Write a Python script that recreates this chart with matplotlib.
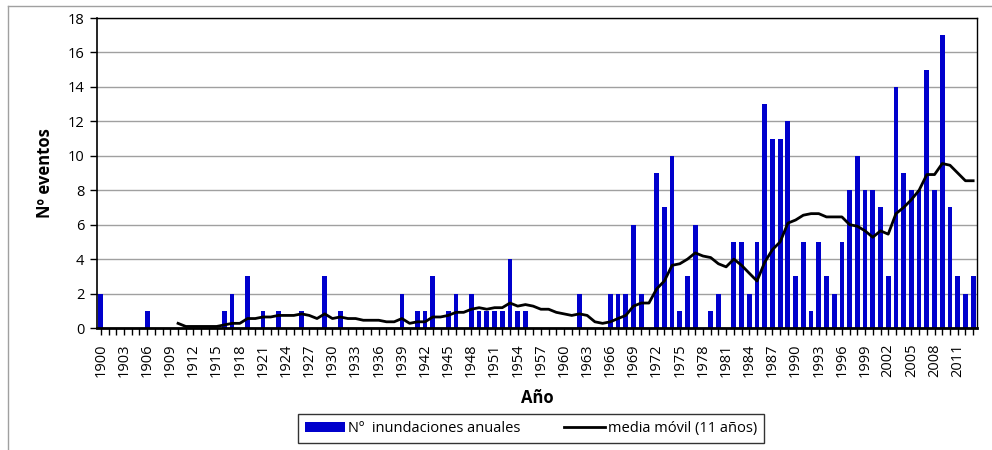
import matplotlib.pyplot as plt
import matplotlib.lines as mlines
import numpy as np

plt.rcParams['font.family'] = ['Open Sans', 'DejaVu Sans']

# Datos: número de inundaciones por año (1900-2013)
years = list(range(1900, 2014))
counts = [
    2, 0, 0, 0, 0, 0, 1, 0, 0, 0,      # 1900-1909
    0, 0, 0, 0, 0, 0, 1, 2, 0, 3,      # 1910-1919
    0, 1, 0, 1, 0, 0, 1, 0, 0, 3,      # 1920-1929
    0, 1, 0, 0, 0, 0, 0, 0, 0, 2,      # 1930-1939
    0, 1, 1, 3, 0, 1, 2, 0, 2, 1,      # 1940-1949
    1, 1, 1, 4, 1, 1, 0, 0, 0, 0,      # 1950-1959
    0, 0, 2, 0, 0, 0, 2, 2, 2, 6,      # 1960-1969
    2, 0, 9, 7, 10, 1, 3, 6, 0, 1,     # 1970-1979
    2, 0, 5, 5, 2, 5, 13, 11, 11, 12,  # 1980-1989
    3, 5, 1, 5, 3, 2, 5, 8, 10, 8,     # 1990-1999
    8, 7, 3, 14, 9, 8, 8, 15, 8, 17,   # 2000-2009
    7, 3, 2, 3,                        # 2010-2013
]

# media móvil de 11 años (1910-2013)
ma_years = list(range(1910, 2014))
ma_values = [
    0.27, 0.09, 0.09, 0.09, 0.09, 0.09, 0.18, 0.27, 0.27, 0.55,  # 1910-1919
    0.55, 0.64, 0.64, 0.73, 0.73, 0.73, 0.82, 0.73, 0.55, 0.82,  # 1920-1929
    0.55, 0.64, 0.55, 0.55, 0.45, 0.45, 0.45, 0.36, 0.36, 0.55,  # 1930-1939
    0.27, 0.36, 0.36, 0.64, 0.64, 0.73, 0.91, 0.91, 1.09, 1.18,  # 1940-1949
    1.09, 1.18, 1.18, 1.45, 1.27, 1.36, 1.27, 1.09, 1.09, 0.91,  # 1950-1959
    0.82, 0.73, 0.82, 0.73, 0.36, 0.27, 0.36, 0.55, 0.73, 1.27,  # 1960-1969
    1.45, 1.45, 2.27, 2.73, 3.64, 3.73, 4.00, 4.36, 4.18, 4.09,  # 1970-1979
    3.73, 3.55, 4.00, 3.64, 3.18, 2.73, 3.82, 4.55, 5.00, 6.09,  # 1980-1989
    6.27, 6.55, 6.64, 6.64, 6.45, 6.45, 6.45, 6.00, 5.91, 5.64,  # 1990-1999
    5.27, 5.64, 5.45, 6.64, 7.00, 7.45, 8.00, 8.91, 8.91, 9.55,  # 2000-2009
    9.45, 9.00, 8.55, 8.55,                                      # 2010-2013
]

label_years = list(range(1900, 2012, 3))
y_ticks = list(range(0, 19, 2))

fig = plt.figure(figsize=(9.92, 4.5), dpi=100)
ax = fig.add_axes([97 / 992, 1 - 328 / 450, 880 / 992, 310 / 450])

bars = ax.bar(years, counts, width=0.62, color='#0000CC', zorder=2,
              label='Nº  inundaciones anuales')
line, = ax.plot(ma_years, ma_values, color='black', lw=2, zorder=3,
                label='media móvil (11 años)')

ax.set_xlim(1899.5, 2013.5)
ax.set_ylim(0, 18)
ax.set_yticks(y_ticks)
ax.set_xticks(label_years)
ax.set_xticks(years, minor=True)
ax.set_xticklabels([str(y) for y in label_years], rotation=90)
ax.tick_params(axis='x', which='both', direction='out', length=5, width=1,
               labelsize=10.5, pad=6)
ax.tick_params(axis='y', direction='out', length=5, width=1, labelsize=10.5, pad=4)

ax.yaxis.grid(True, color='#a0a0a0', lw=1)
ax.set_axisbelow(True)
for s in ['top', 'right']:
    ax.spines[s].set_linewidth(1)
ax.spines['left'].set_linewidth(1.2)
ax.spines['bottom'].set_linewidth(2)

ax.set_ylabel('Nº eventos', fontsize=12, fontweight='bold', labelpad=10)
ax.set_xlabel('Año', fontsize=12, fontweight='bold', labelpad=9)

leg = fig.legend(handles=[bars, line], loc='center', ncol=2,
                 bbox_to_anchor=(531 / 992, 1 - 428.5 / 450),
                 fontsize=10.5, frameon=True, fancybox=False, edgecolor='black',
                 handlelength=2.8, handletextpad=0.2, columnspacing=3.0,
                 borderpad=0.45, borderaxespad=0)
leg.get_frame().set_linewidth(1)

# marco exterior del gráfico
fig.add_artist(mlines.Line2D([8 / 992, 1], [1 - 6 / 450, 1 - 6 / 450],
                             color='#a0a0a0', lw=1, transform=fig.transFigure))
fig.add_artist(mlines.Line2D([8 / 992, 8 / 992], [0, 1 - 6 / 450],
                             color='#a0a0a0', lw=1, transform=fig.transFigure))

fig.savefig('out.png', dpi=100)
